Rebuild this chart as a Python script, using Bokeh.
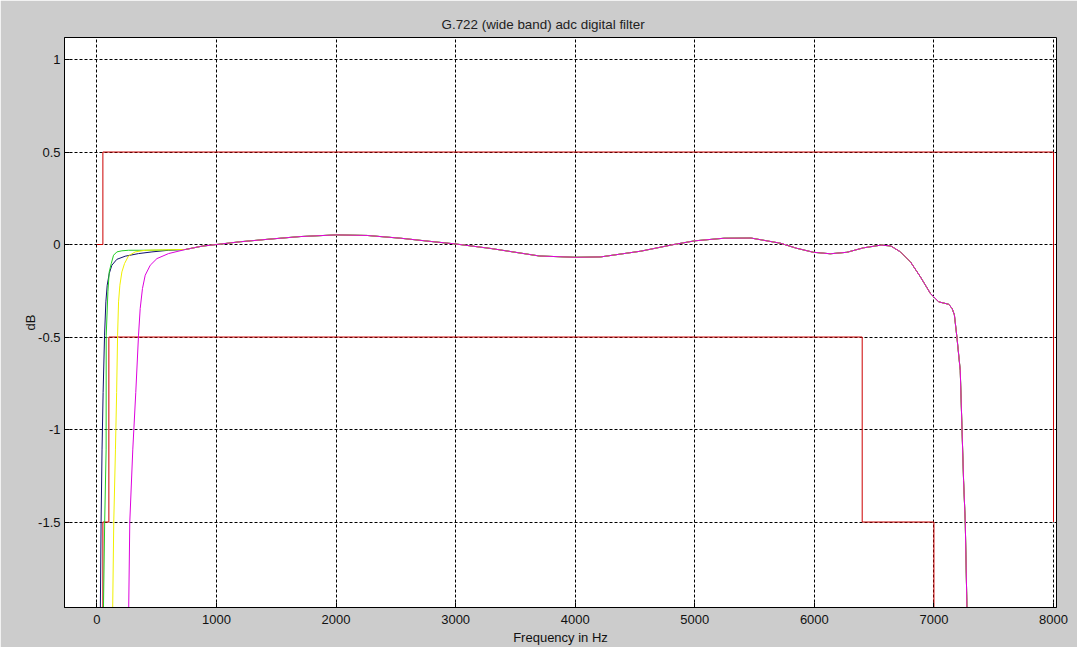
from bokeh.plotting import figure
from bokeh.models import FixedTicker, Range1d
from bokeh.embed import file_html
from bokeh.resources import INLINE

# ---------------- data ----------------
x_ticks = [0, 1000, 2000, 3000, 4000, 5000, 6000, 7000, 8000]
x_tick_labels = ["0", "1000", "2000", "3000", "4000", "5000", "6000", "7000", "8000"]
y_ticks = [-1.5, -1.0, -0.5, 0.0, 0.5, 1.0]
y_tick_labels = ["-1.5", "-1", "-0.5", "0", "0.5", "1"]

# common passband / roll-off shared by all responses (Hz, dB)
common_f = [739, 878, 1000, 1200, 1424, 1700, 2000, 2260, 2540, 2800, 3000, 3300,
            3700, 4000, 4213, 4548, 4824, 5000, 5245, 5470, 5716, 5850, 5993, 6133,
            6272, 6410, 6560, 6640, 6720, 6804, 6887, 6971, 7040, 7124, 7152, 7171,
            7192, 7220, 7248, 7262, 7276]
common_db = [-0.027, -0.009, 0.0, 0.015, 0.028, 0.043, 0.052, 0.049, 0.034, 0.016,
             0.003, -0.022, -0.062, -0.069, -0.067, -0.036, 0.0, 0.02, 0.034, 0.035,
             0.007, -0.02, -0.042, -0.05, -0.042, -0.018, -0.003, -0.008, -0.04,
             -0.094, -0.175, -0.265, -0.31, -0.323, -0.346, -0.38, -0.5, -0.68,
             -1.277, -1.5, -1.962]

# low-frequency (high-pass) parts of the four responses
navy_f = [29, 35, 43, 52, 64, 75, 86, 103, 125, 167, 237, 348, 460, 600]
navy_db = [-1.962, -1.5, -1.11, -0.8, -0.49, -0.31, -0.22, -0.157, -0.112, -0.08,
           -0.063, -0.049, -0.04, -0.031]
green_f = [55, 65, 77, 78, 92, 103, 120, 139, 167, 209, 265, 400, 550]
green_db = [-1.962, -1.5, -1.11, -0.49, -0.256, -0.148, -0.103, -0.058, -0.04,
            -0.034, -0.031, -0.031, -0.03]
yellow_f = [132, 141, 155, 165, 173, 181, 192, 209, 231, 265, 320, 404, 550]
yellow_db = [-1.962, -1.5, -1.11, -0.8, -0.49, -0.31, -0.22, -0.148, -0.103,
             -0.061, -0.04, -0.031, -0.029]
magenta_f = [266, 275, 300, 325, 348, 362, 381, 404, 446, 502, 599]
magenta_db = [-1.962, -1.5, -1.11, -0.8, -0.49, -0.346, -0.238, -0.166, -0.112,
              -0.076, -0.049]

# template (mask) lines
upper_mask_f = [0, 50, 50, 8000, 8000]
upper_mask_db = [0.0, 0.0, 0.5, 0.5, -1.5]
lower_mask_f = [50, 50, 100, 100, 6400, 6400, 7000, 7000]
lower_mask_db = [-2.5, -1.5, -1.5, -0.5, -0.5, -1.5, -1.5, -2.5]

# ---------------- figure ----------------
FONT = "Liberation Sans"
p = figure(width=1077, height=647, output_backend="svg", toolbar_location=None,
           x_range=Range1d(-271, 8025), y_range=Range1d(-1.962, 1.119),
           title="G.722 (wide band) adc digital filter",
           min_border_left=64, min_border_right=21, min_border_top=37,
           min_border_bottom=40)
p.border_fill_color = "#cccccc"
p.background_fill_color = "white"
p.outline_line_color = "black"
p.outline_line_width = 1

p.title.align = "left"
p.title.offset = 377
p.title.text_font = FONT
p.title.text_font_size = "13.4px"
p.title.text_font_style = "normal"
p.title.text_color = "#222222"
p.title.standoff = 11

xt = FixedTicker(ticks=x_ticks)
yt = FixedTicker(ticks=y_ticks)

for ax, tk, labels in ((p.xaxis[0], xt, x_tick_labels), (p.yaxis[0], yt, y_tick_labels)):
    ax.ticker = tk
    ax.major_label_overrides = {t: l for t, l in zip(tk.ticks, labels)}
    ax.major_tick_in = 5
    ax.major_tick_out = 0
    ax.minor_tick_line_color = None
    ax.axis_line_color = "black"
    ax.major_tick_line_color = "black"
    ax.major_label_text_font = FONT
    ax.major_label_text_font_size = "13px"
    ax.major_label_text_color = "#111111"
    ax.axis_label_text_font = FONT
    ax.axis_label_text_font_size = "13px"
    ax.axis_label_text_font_style = "normal"
    ax.axis_label_text_color = "#111111"

p.xaxis[0].axis_label = "Frequency in Hz"
p.xaxis[0].major_label_standoff = 7
p.xaxis[0].axis_label_standoff = 3
p.yaxis[0].axis_label = "dB"
p.yaxis[0].major_label_standoff = 4
p.yaxis[0].axis_label_standoff = -3

p.xgrid.ticker = xt
p.ygrid.ticker = yt
for g in (p.xgrid, p.ygrid):
    g.grid_line_color = "black"
    g.grid_line_alpha = 1.0
    g.grid_line_dash = "3 2"
    g.grid_line_width = 1

# ---------------- glyphs ----------------
RED = "#cc0000"
p.line(upper_mask_f, upper_mask_db, line_color=RED, line_width=1)
p.line(lower_mask_f, lower_mask_db, line_color=RED, line_width=1)

for lf, ldb, col in ((navy_f, navy_db, "#10106e"),
                     (green_f, green_db, "#22cc22"),
                     (yellow_f, yellow_db, "#f0f000"),
                     (magenta_f, magenta_db, "#dd00dd")):
    p.line(lf + common_f, ldb + common_db, line_color=col, line_width=1)

open("out.html", "w").write(file_html(p, INLINE))
